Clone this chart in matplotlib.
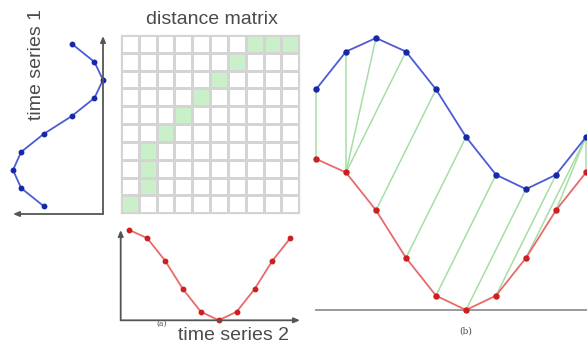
import numpy as np
import matplotlib
matplotlib.use("Agg")
import matplotlib.pyplot as plt

# ---- data ----
series1 = [0.66, 0.91, 1.0, 0.91, 0.66, 0.345, 0.095, 0.0, 0.095, 0.345]   # blue
series2 = [1.0, 0.91, 0.66, 0.345, 0.095, 0.0, 0.095, 0.345, 0.66, 0.91]   # red
# warping path: (index in series1, index in series2)
path_s1 = [0, 1, 2, 3, 4, 5, 6, 7, 8, 9, 9, 9]
path_s2 = [0, 1, 1, 1, 2, 3, 4, 5, 6, 7, 8, 9]
blue_offset = 0.80
n = len(series1)

W, H = 587, 344
fig = plt.figure(figsize=(W / 100, H / 100), dpi=100)
fig.patch.set_facecolor("white")
plt.rcParams['font.family'] = ['Liberation Sans', 'DejaVu Sans']

BLUE_L, BLUE_M = "#4b5bd6", "#1628a8"
RED_L, RED_M = "#e86a6a", "#cc2020"
GREEN_L = "#a6dea6"
GREEN_F = "#c9f0c9"
GRID = "#d4d4d4"
AXC = "#555555"
TXT = "#4a4a4a"


def add_ax(x0, y0, x1, y1):
    """axes from pixel box (top-left origin)"""
    return fig.add_axes([x0 / W, (H - y1) / H, (x1 - x0) / W, (y1 - y0) / H])


def clean(ax):
    for s in ax.spines.values():
        s.set_visible(False)
    ax.set_xticks([])
    ax.set_yticks([])
    ax.patch.set_alpha(0)


arrow_kw = dict(arrowstyle="-|>,head_length=0.35,head_width=0.15", color=AXC, lw=1.3,
                shrinkA=0, shrinkB=0)

# ---- time series 1 (vertical, value increasing leftward) ----
ax1 = add_ax(13, 36, 103, 214)
clean(ax1)
t = np.arange(n)
ax1.plot(series1, t, color=BLUE_L, lw=1.3, marker="o", ms=3.2, mfc=BLUE_M, mec=BLUE_M,
         clip_on=False)
ax1.set_xlim(1.0, 0.0)
ax1.set_ylim(-0.44, 9.44)
ax1.annotate("", xy=(1, 1), xytext=(1, 0), xycoords="axes fraction", arrowprops=arrow_kw)
ax1.annotate("", xy=(0, 0), xytext=(1, 0), xycoords="axes fraction", arrowprops=arrow_kw)
fig.text(37 / W, 1 - 65 / H, "time series 1", rotation=90, ha="center", va="center",
         fontsize=14, color=TXT)

# ---- distance matrix ----
axm = add_ax(121, 35, 299.3, 213.3)
mask = np.zeros((n, n))
for i, j in zip(path_s1, path_s2):
    mask[i, j] = 1
cmap = matplotlib.colors.ListedColormap(["white", GREEN_F])
axm.pcolormesh(np.arange(n + 1), np.arange(n + 1), mask, cmap=cmap, vmin=0, vmax=1,
               edgecolors=GRID, linewidth=0.9)
axm.set_xlim(0, n)
axm.set_ylim(0, n)
axm.set_xticks([])
axm.set_yticks([])
for s in axm.spines.values():
    s.set_color(GRID)
    s.set_linewidth(0.9)
fig.text(211.7 / W, 1 - 20 / H, "distance matrix", ha="center", va="center",
         fontsize=14, color=TXT)

# ---- time series 2 (horizontal) ----
ax2 = add_ax(120.7, 230, 300, 320.3)
clean(ax2)
ax2.plot(t, series2, color=RED_L, lw=1.3, marker="o", ms=3.2, mfc=RED_M, mec=RED_M,
         clip_on=False)
ax2.set_xlim(-0.48, 9.54)
ax2.set_ylim(0, 1.0)
ax2.annotate("", xy=(0, 1), xytext=(0, 0), xycoords="axes fraction", arrowprops=arrow_kw)
ax2.annotate("", xy=(1, 0), xytext=(0, 0), xycoords="axes fraction", arrowprops=arrow_kw)
fig.text(234 / W, 1 - 335 / H, "time series 2", ha="center", va="center",
         fontsize=14, color=TXT)
fig.text(161.7 / W, 1 - 324 / H, "(a)", ha="center", va="center", fontsize=5.5,
         color=TXT, family="DejaVu Serif")

# ---- panel (b): aligned series ----
axb = add_ax(316, 38, 586, 310)
clean(axb)
axb.set_xlim(0, n - 1)
axb.set_ylim(0, 1.8)
axb.plot([0, n - 1 + 0.05], [0, 0], color="#9a9a9a", lw=1.4, clip_on=False, zorder=1)
for i, j in zip(path_s1, path_s2):
    axb.plot([i, j], [series1[i] + blue_offset, series2[j]], color=GREEN_L, lw=1.1,
             clip_on=False, zorder=2)
axb.plot(t, np.array(series1) + blue_offset, color=BLUE_L, lw=1.3, marker="o", ms=3.6,
         mfc=BLUE_M, mec=BLUE_M, clip_on=False, zorder=3)
axb.plot(t, series2, color=RED_L, lw=1.3, marker="o", ms=3.6, mfc=RED_M, mec=RED_M,
         clip_on=False, zorder=3)
fig.text(466 / W, 1 - 331 / H, "(b)", ha="center", va="center", fontsize=6.5,
         color=TXT, family="DejaVu Serif")

fig.savefig("out.png", dpi=100, facecolor="white")
